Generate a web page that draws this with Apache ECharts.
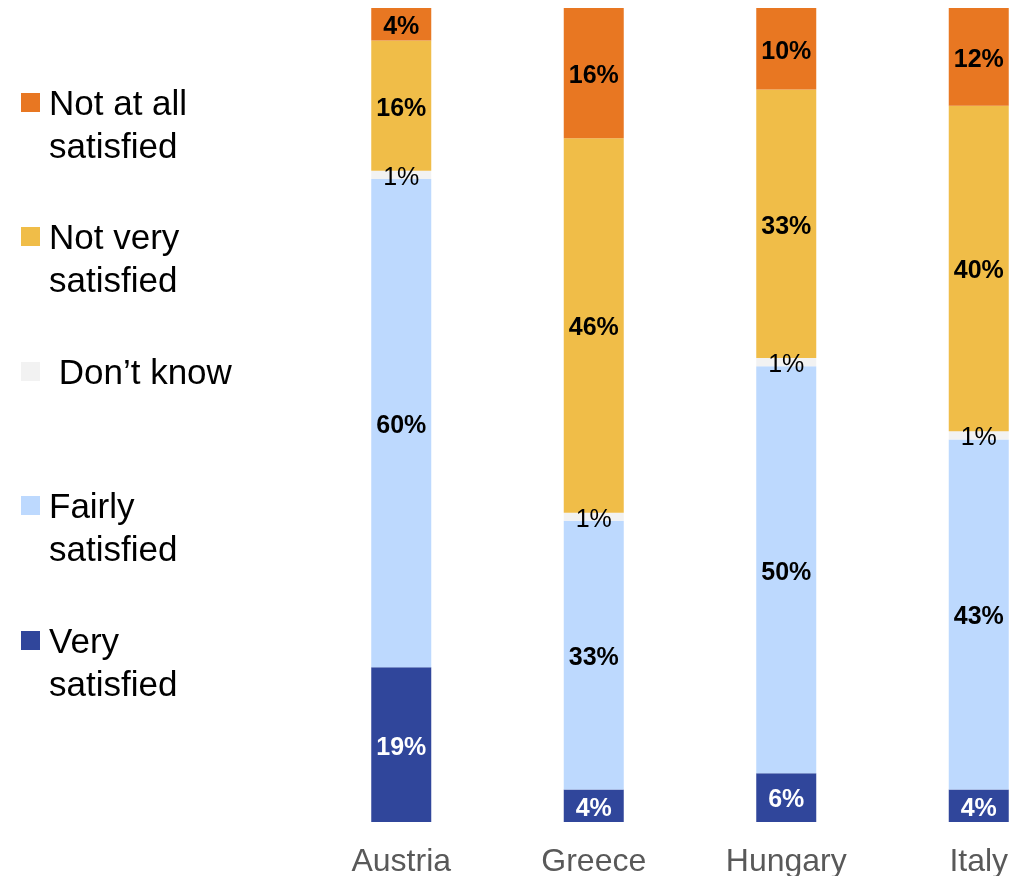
<!DOCTYPE html>
<html>
<head>
<meta charset="utf-8">
<script src="https://cdn.jsdelivr.net/npm/echarts@6/dist/echarts.min.js"></script>
<style>html,body{margin:0;padding:0;background:#fff}#c{width:1012px;height:876px}</style>
</head>
<body>
<div id="c"></div>
<script>
var countries = ['Austria', 'Greece', 'Hungary', 'Italy'];
var verySatisfied = [19, 4, 6, 4];
var fairlySatisfied = [60, 33, 50, 43];
var dontKnow = [1, 1, 1, 1];
var notVerySatisfied = [16, 46, 33, 40];
var notAtAllSatisfied = [4, 16, 10, 12];
var legendNames = ['Not at all\nsatisfied', 'Not very\nsatisfied', ' Don\u2019t know', 'Fairly\nsatisfied', 'Very\nsatisfied'];

var colors = {
  very: '#30469B',
  fairly: '#BDD9FE',
  dk: '#F2F2F2',
  notVery: '#F0BD48',
  notAtAll: '#E87722'
};
var legendColors = [colors.notAtAll, colors.notVery, colors.dk, colors.fairly, colors.very];
var legendTops = [93, 227, 362, 496, 631];

var font = 'Arial, "Liberation Sans", sans-serif';
function lbl(color, weight) {
  return {
    show: true, position: 'inside', color: color, fontWeight: weight,
    fontSize: 25, fontFamily: font, offset: [0, 3],
    formatter: function (p) { return p.value + '%'; }
  };
}
function mk(name, data, color, label) {
  return {
    name: name, type: 'bar', stack: 'total', data: data, barWidth: 60,
    itemStyle: { color: color }, label: label, silent: true
  };
}

var graphics = [];
legendNames.forEach(function (n, i) {
  graphics.push({
    type: 'rect', left: 21, top: legendTops[i],
    shape: { width: 19, height: 19 }, style: { fill: legendColors[i] }
  });
  graphics.push({
    type: 'text', left: 49, top: legendTops[i] - 9,
    style: { text: n, fill: '#000', font: '35px ' + font, lineHeight: 43 }
  });
});

var chart = echarts.init(document.getElementById('c'));
chart.setOption({
  animation: false,
  grid: { left: 305, top: 8, width: 770, bottom: 54, containLabel: false, outerBoundsMode: 'none' },
  xAxis: {
    type: 'category', data: countries,
    axisLine: { show: false }, axisTick: { show: false },
    axisLabel: { color: '#595959', fontSize: 32, fontFamily: font, margin: 24 }
  },
  yAxis: { type: 'value', min: 0, max: 100, show: false, splitLine: { show: false } },
  series: [
    mk('Very satisfied', verySatisfied, colors.very, lbl('#fff', 'bold')),
    mk('Fairly satisfied', fairlySatisfied, colors.fairly, lbl('#000', 'bold')),
    mk('Don\u2019t know', dontKnow, colors.dk, lbl('#000', 'normal')),
    mk('Not very satisfied', notVerySatisfied, colors.notVery, lbl('#000', 'bold')),
    mk('Not at all satisfied', notAtAllSatisfied, colors.notAtAll, lbl('#000', 'bold'))
  ],
  graphic: graphics
});
</script>
</body>
</html>
